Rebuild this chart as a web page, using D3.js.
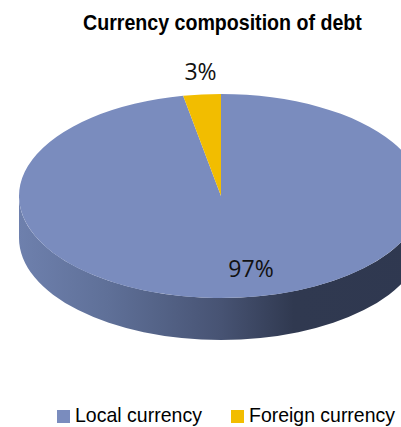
<!DOCTYPE html>
<html><head><meta charset="utf-8">
<script src="https://cdn.jsdelivr.net/npm/d3@7/dist/d3.min.js"></script>
<style>html,body{margin:0;padding:0;background:#fff;overflow:hidden}svg{display:block}</style>
</head><body><svg id="c" width="401" height="427"></svg>
<script>
const categories = ["Local currency", "Foreign currency"];
const values = [97, 3];
const labels = ["97%", "3%"];
const colors = ["#7a8cbe", "#f2bd00"];
const titleText = "Currency composition of debt";

const W = 401, H = 427, cx = 221, cy = 196, rx = 202, ry = 102, depth = 42;
const svg = d3.select("#c");
const defs = svg.append("defs");
const grad = defs.append("linearGradient").attr("id","side").attr("gradientUnits","userSpaceOnUse")
  .attr("x1",19).attr("x2",423).attr("y1",0).attr("y2",0);
[[0,"#6e80ad"],[0.22,"#5f7098"],[0.5,"#475373"],[0.68,"#303950"],[1,"#2f3850"]]
  .forEach(([o,c])=>grad.append("stop").attr("offset",o).attr("stop-color",c));

// Squeeze a text horizontally to a target width without letting its box overflow
function fit(sel, x, y, width){
  const natural = sel.node().getComputedTextLength();
  sel.attr("transform",`translate(${x},${y}) scale(${width/natural},1)`);
}

fit(svg.append("text").attr("font-family","Liberation Sans").attr("font-weight","bold").attr("font-size",22)
  .attr("fill","#000").text(titleText), 83, 30, 279);

// side wall: the lower half of the ellipse extruded downward
const side = `M${cx-rx},${cy} L${cx-rx},${cy+depth} A${rx},${ry} 0 0 0 ${cx+rx},${cy+depth} L${cx+rx},${cy} A${rx},${ry} 0 0 1 ${cx-rx},${cy} Z`;
svg.append("path").attr("d",side).attr("fill","url(#side)");

const pie = d3.pie().sort(null).value(d=>d)(values);
const arc = d3.arc().innerRadius(0).outerRadius(rx);
const g = svg.append("g").attr("transform",`translate(${cx},${cy}) scale(1,${ry/rx})`);
g.selectAll("path").data(pie).join("path").attr("d",arc).attr("fill",(d,i)=>colors[i]);

const labelPos = [[251,277],[200.5,80]];
svg.selectAll("text.l").data(labels).join("text").attr("class","l")
  .attr("x",(d,i)=>labelPos[i][0]).attr("y",(d,i)=>labelPos[i][1]).attr("text-anchor","middle")
  .attr("font-family","Open Sans").attr("font-size",23).attr("fill","#111").text(d=>d);

const lg = [[57,75,127],[231,249,146]];
categories.forEach((c,i)=>{
  svg.append("rect").attr("x",lg[i][0]).attr("y",410).attr("width",13).attr("height",13).attr("fill",colors[i]);
  fit(svg.append("text").attr("font-family","Liberation Sans").attr("font-size",21).attr("fill","#000").text(c),
    lg[i][1], 422, lg[i][2]);
});
</script></body></html>
